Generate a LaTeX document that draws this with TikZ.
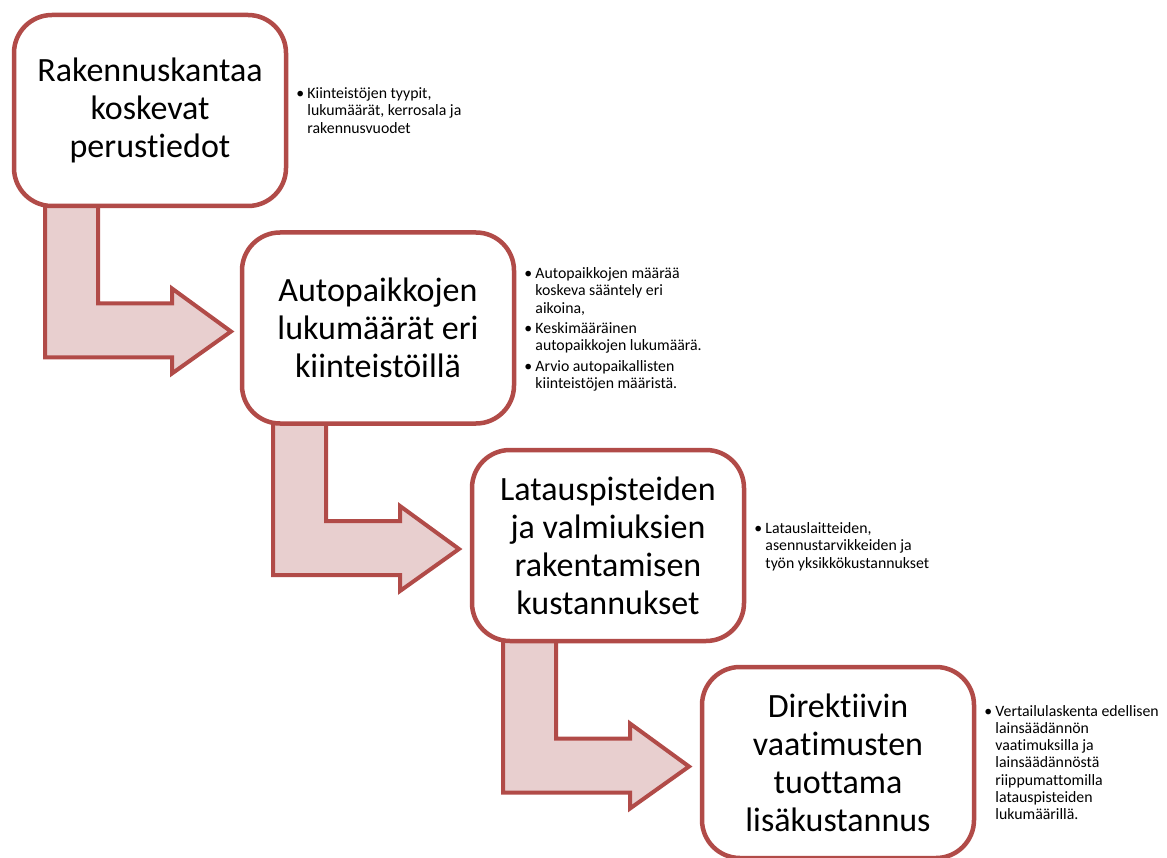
\documentclass[tikz,border=0pt]{standalone}
\usepackage{fontspec}
\setmainfont{Carlito}[Ligatures=NoCommon]
\usetikzlibrary{positioning,backgrounds}
\definecolor{stepred}{HTML}{B14B48}
\definecolor{steppink}{HTML}{E8CFCF}
\newcommand{\bul}{\makebox[11pt][l]{\textbullet}}

\begin{document}
\begin{tikzpicture}[
    x=1pt, y=-1pt,
    phase/.style={rectangle, draw=stepred, line width=4.5pt, rounded corners=38pt, fill=white, minimum width=272pt, minimum height=191pt, align=center, inner sep=0pt, font=\fontsize{34}{38}\selectfont},
    detail/.style={align=left, inner sep=0pt, yshift=-2pt, font=\fontsize{15.8}{17.3}\selectfont},
    flow/.style={draw=stepred, fill=steppink, line width=4pt, line join=miter}
]
\useasboundingbox (0,0) rectangle (1167,858);

\node[phase] (b1) at (150,110.5) {Rakennuskantaa\\koskevat\\perustiedot};
\node[phase] (b2) at (378,328) {Autopaikkojen\\lukumäärät eri\\kiinteistöillä};
\node[phase] (b3) at (608,545.5) {Latauspisteiden\\ja valmiuksien\\rakentamisen\\kustannukset};
\node[phase] (b4) at (838,762.5) {Direktiivin\\vaatimusten\\tuottama\\lisäkustannus};

% side notes
\node[detail, right=8pt of b1] (n1) {\begin{tabular}{@{}l@{}l@{}}
\bul & Kiinteistöjen tyypit,\\
& lukumäärät, kerrosala ja\\
& rakennusvuodet
\end{tabular}};
\node[detail, right=8pt of b2] (n2) {\begin{tabular}{@{}l@{}l@{}}
\bul & Autopaikkojen määrää\\
& koskeva sääntely eri\\
& aikoina,\\[3pt]
\bul & Keskimääräinen\\
& autopaikkojen lukumäärä.\\[3pt]
\bul & Arvio autopaikallisten\\
& kiinteistöjen määristä.
\end{tabular}};
\node[detail, right=8pt of b3] (n3) {\begin{tabular}{@{}l@{}l@{}}
\bul & Latauslaitteiden,\\
& asennustarvikkeiden ja\\
& työn yksikkökustannukset
\end{tabular}};
\node[detail, right=8pt of b4] (n4) {\begin{tabular}{@{}l@{}l@{}}
\bul & Vertailulaskenta edellisen\\
& lainsäädännön\\
& vaatimuksilla ja\\
& lainsäädännöstä\\
& riippumattomilla\\
& latauspisteiden\\
& lukumäärillä.
\end{tabular}};

% bent arrows between the steps
\begin{scope}[on background layer]
\foreach \src in {b1,b2,b3}
  \draw[flow, shift={(\src.center)}] (-105,90) -- (-52,90) -- (-52,193) -- (22,193) -- (22,178) -- (81,221) -- (22,263) -- (22,247) -- (-105,247) -- cycle;
\end{scope}

\end{tikzpicture}
\end{document}
